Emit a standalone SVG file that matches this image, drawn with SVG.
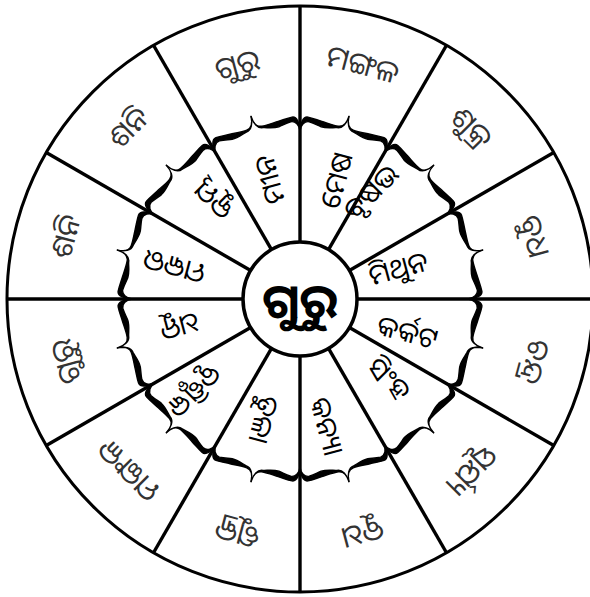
<svg xmlns="http://www.w3.org/2000/svg" xmlns:xlink="http://www.w3.org/1999/xlink" width="590" height="597" viewBox="0 0 590 597">
<style>
.ring{fill:#fff;stroke:#000;stroke-width:3}
.spoke{stroke:#000;stroke-width:3.4}
.brace{fill:#000;stroke:#000;stroke-width:1.4;stroke-linejoin:round}
.outer{font-family:"Noto Sans Oriya","Noto Sans Odia","Lohit Odia","Noto Sans",sans-serif;font-size:30px;fill:#333;text-anchor:middle;dominant-baseline:central}
.inner{font-family:"Noto Sans Oriya","Noto Sans Odia","Lohit Odia","Noto Sans",sans-serif;font-size:28px;fill:#000;text-anchor:middle;dominant-baseline:central}
.center{font-family:"Noto Sans Oriya","Noto Sans Odia","Lohit Odia","Noto Sans",sans-serif;font-size:48px;font-weight:bold;fill:#000;text-anchor:middle;dominant-baseline:central}
</style>
<defs>
<path id="half" class="brace" d="M0,-189 C0.3,-182 3,-177.3 7.72,-176.83 C13,-176.3 19,-177 24.91,-177.26 C31,-177.5 35,-178 39.39,-177.69 C44,-177.4 45.5,-170 43.48,-162.28 C44.5,-168 41.5,-173.4 36.9,-173.62 C31,-173.2 28,-172.2 24.15,-171.81 C18,-171.5 12,-174.5 8.56,-175.09 C3,-175.5 0.3,-182 0,-189 Z"/>
<g id="brace">
<use xlink:href="#half"/>
<use xlink:href="#half" transform="scale(-1,1)"/>
</g>
</defs>
<g id="wheel">
<circle class="ring" cx="300" cy="299" r="293"/>
</g>
<g id="connectors">
<line class="spoke" x1="300" y1="242" x2="300" y2="6" transform="rotate(0 300 299)"/>
<line class="spoke" x1="300" y1="242" x2="300" y2="6" transform="rotate(30 300 299)"/>
<line class="spoke" x1="300" y1="242" x2="300" y2="6" transform="rotate(60 300 299)"/>
<line class="spoke" x1="300" y1="242" x2="300" y2="6" transform="rotate(90 300 299)"/>
<line class="spoke" x1="300" y1="242" x2="300" y2="6" transform="rotate(120 300 299)"/>
<line class="spoke" x1="300" y1="242" x2="300" y2="6" transform="rotate(150 300 299)"/>
<line class="spoke" x1="300" y1="242" x2="300" y2="6" transform="rotate(180 300 299)"/>
<line class="spoke" x1="300" y1="242" x2="300" y2="6" transform="rotate(210 300 299)"/>
<line class="spoke" x1="300" y1="242" x2="300" y2="6" transform="rotate(240 300 299)"/>
<line class="spoke" x1="300" y1="242" x2="300" y2="6" transform="rotate(270 300 299)"/>
<line class="spoke" x1="300" y1="242" x2="300" y2="6" transform="rotate(300 300 299)"/>
<line class="spoke" x1="300" y1="242" x2="300" y2="6" transform="rotate(330 300 299)"/>
</g>
<g id="braces">
<use xlink:href="#brace" transform="translate(300,299) rotate(15)"/>
<use xlink:href="#brace" transform="translate(300,299) rotate(45)"/>
<use xlink:href="#brace" transform="translate(300,299) rotate(75)"/>
<use xlink:href="#brace" transform="translate(300,299) rotate(105)"/>
<use xlink:href="#brace" transform="translate(300,299) rotate(135)"/>
<use xlink:href="#brace" transform="translate(300,299) rotate(165)"/>
<use xlink:href="#brace" transform="translate(300,299) rotate(195)"/>
<use xlink:href="#brace" transform="translate(300,299) rotate(225)"/>
<use xlink:href="#brace" transform="translate(300,299) rotate(255)"/>
<use xlink:href="#brace" transform="translate(300,299) rotate(285)"/>
<use xlink:href="#brace" transform="translate(300,299) rotate(315)"/>
<use xlink:href="#brace" transform="translate(300,299) rotate(345)"/>
</g>
<g id="planets">
<g id="p1"><text class="outer" x="300" y="55" transform="rotate(15 300 299)">ମଙ୍ଗଳ</text></g>
<g id="p2"><text class="outer" x="300" y="55" transform="rotate(45 300 299)">ଶୁକ୍ର</text></g>
<g id="p3"><text class="outer" x="300" y="55" transform="rotate(75 300 299)">ବୁଧ</text></g>
<g id="p4"><text class="outer" x="300" y="55" transform="rotate(105 300 299)">ଚନ୍ଦ୍ର</text></g>
<g id="p5"><text class="outer" x="300" y="55" transform="rotate(135 300 299)">ସୂର୍ଯ୍ୟ</text></g>
<g id="p6"><text class="outer" x="300" y="55" transform="rotate(165 300 299)">ବୁଧ</text></g>
<g id="p7"><text class="outer" x="300" y="55" transform="rotate(195 300 299)">ଶୁକ୍ର</text></g>
<g id="p8"><text class="outer" x="300" y="55" transform="rotate(225 300 299)">ମଙ୍ଗଳ</text></g>
<g id="p9"><text class="outer" x="300" y="55" transform="rotate(255 300 299)">ଗୁରୁ</text></g>
<g id="p10"><text class="outer" x="300" y="55" transform="rotate(285 300 299)">ଶନି</text></g>
<g id="p11"><text class="outer" x="300" y="55" transform="rotate(315 300 299)">ଶନି</text></g>
<g id="p12"><text class="outer" x="300" y="55" transform="rotate(345 300 299)">ଗୁରୁ</text></g>
</g>
<g id="signs">
<g id="s1"><text class="inner" transform="translate(335,180) rotate(-75)">ମେଷ</text></g>
<g id="s2"><text class="inner" transform="translate(370,191) rotate(-45)">ବୃଷଭ</text></g>
<g id="s3"><text class="inner" transform="translate(398,267) rotate(-15)">ମିଥୁନ</text></g>
<g id="s4"><text class="inner" transform="translate(408,331) rotate(15)">କର୍କଟ</text></g>
<g id="s5"><text class="inner" transform="translate(390,378) rotate(45)">ସିଂହ</text></g>
<g id="s6"><text class="inner" transform="translate(328,426) rotate(75)">କନ୍ୟା</text></g>
<g id="s7"><text class="inner" transform="translate(265,420) rotate(105)">ତୁଳା</text></g>
<g id="s8"><text class="inner" transform="translate(195,392) rotate(135)">ବୃଶ୍ଚିକ</text></g>
<g id="s9"><text class="inner" transform="translate(180,328) rotate(165)">ଧନୁ</text></g>
<g id="s10"><text class="inner" transform="translate(174,268) rotate(195)">ମକର</text></g>
<g id="s11"><text class="inner" transform="translate(212,200) rotate(225)">କୁମ୍ଭ</text></g>
<g id="s12"><text class="inner" transform="translate(268,180) rotate(255)">ମୀନ</text></g>
</g>
<g id="hub">
<circle cx="300" cy="299" r="57" fill="#fff" stroke="#000" stroke-width="3.5"/>
<text class="center" x="300" y="299">ଗୁରୁ</text>
</g>
</svg>
